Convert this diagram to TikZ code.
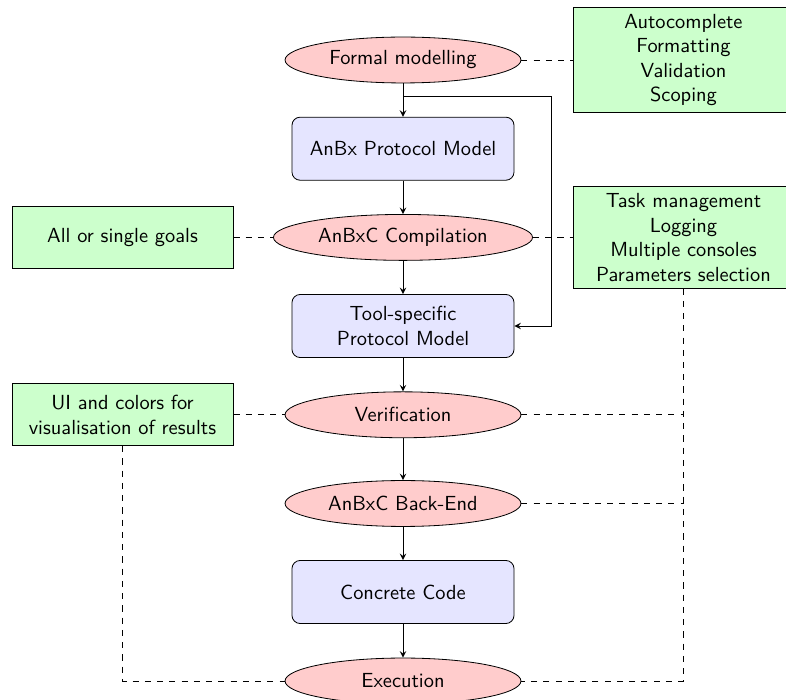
\documentclass[tikz,border=0pt]{standalone}
\usetikzlibrary{shapes.geometric,arrows}
\renewcommand{\familydefault}{\sfdefault}
\tikzset{
  stage/.style={ellipse,draw,fill=red!20,minimum width=115.6pt,minimum height=22.5pt},
  model/.style={rectangle,rounded corners,draw,fill=blue!10,minimum width=108.8pt,minimum height=30.9pt,align=center},
  feature/.style={rectangle,draw,fill=green!20,minimum width=108.3pt,minimum height=30.4pt,align=center},
  flow/.style={draw,-stealth},
  link/.style={draw,dashed}
}
\begin{document}
\begin{tikzpicture}[x=0.49pt,y=-0.49pt]
        \useasboundingbox (0,0) rectangle (786,700);

        \node[stage] (formal) at (403,60) {Formal modelling};
        \node[model] (anbx) at (403,148.7) {AnBx Protocol Model};
        \node[stage] (compile) at (403,237.4) {AnBxC Compilation};
        \node[model] (toolmodel) at (403,326) {Tool-specific\\Protocol Model};
        \node[stage] (verify) at (403,414.8) {Verification};
        \node[stage] (backend) at (403,503.5) {AnBxC Back-End};
        \node[model] (code) at (403,592) {Concrete Code};
        \node[stage] (exec) at (403,681) {Execution};

        \node[feature] (editor) at (683.5,60) {Autocomplete\\Formatting\\Validation\\Scoping};
        \node[feature] (tasks) at (683.5,237.4) {Task management\\Logging\\Multiple consoles\\Parameters selection};
        \node[feature] (goals) at (122.5,237.4) {All or single goals};
        \node[feature] (results) at (122.5,414.8) {UI and colors for\\visualisation of results};

        \coordinate (split) at (403,96);
        \coordinate (bypass) at (551,96);

        \draw[flow] (formal) -- (anbx);
        \draw[flow] (anbx) -- (compile);
        \draw[flow] (compile) -- (toolmodel);
        \draw[flow] (toolmodel) -- (verify);
        \draw[flow] (verify) -- (backend);
        \draw[flow] (backend) -- (code);
        \draw[flow] (code) -- (exec);
        \draw[flow] (split) -- (bypass) |- (toolmodel.east);

        \draw[link] (formal) -- (editor);
        \draw[link] (compile) -- (tasks);
        \draw[link] (goals) -- (compile);
        \draw[link] (results) -- (verify);
        \draw[link] (tasks.south) |- (exec.east);
        \draw[link] (verify.east) -- (verify -| tasks.south);
        \draw[link] (backend.east) -- (backend -| tasks.south);
        \draw[link] (results.south) |- (exec.west);
    \end{tikzpicture}
\end{document}
